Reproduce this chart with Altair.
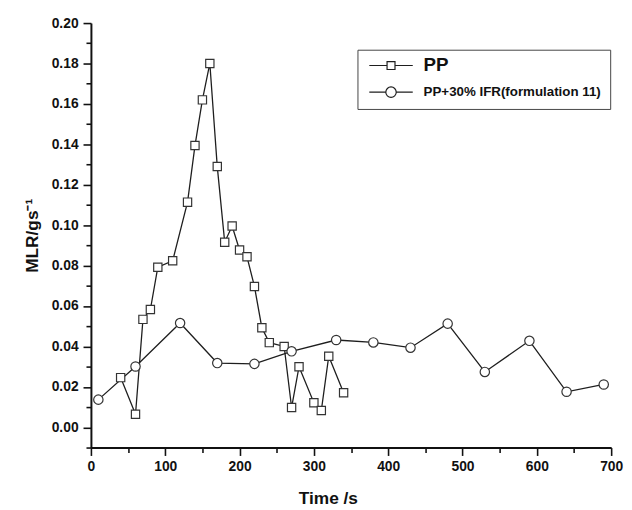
import altair as alt
import pandas as pd

# ---- data ----
series = ["PP", "PP+30% IFR(formulation 11)"]

pp_time = [40, 60, 70, 80, 90, 110, 130, 140, 150, 160, 170, 180, 190, 200, 210,
           220, 230, 240, 260, 270, 280, 300, 310, 320, 340]
pp_mlr = [0.0246, 0.0065, 0.0534, 0.0583, 0.0792, 0.0824, 0.1114, 0.1394, 0.1620,
          0.1800, 0.1290, 0.0916, 0.0996, 0.0877, 0.0844, 0.0697, 0.0493, 0.0419,
          0.0400, 0.0098, 0.0300, 0.0122, 0.0083, 0.0352, 0.0171]

ifr_time = [10, 60, 120, 170, 220, 270, 330, 380, 430, 480, 530, 590, 640, 690]
ifr_mlr = [0.0137, 0.0301, 0.0516, 0.0318, 0.0314, 0.0376, 0.0432, 0.0420, 0.0394,
           0.0513, 0.0274, 0.0428, 0.0176, 0.0212]

x_ticks = list(range(0, 701, 50))
y_ticks = [round(-0.01 + 0.01 * i, 2) for i in range(22)]

pp_df = pd.DataFrame({"t": pp_time, "v": pp_mlr, "s": series[0]})
ifr_df = pd.DataFrame({"t": ifr_time, "v": ifr_mlr, "s": series[1]})
df = pd.concat([pp_df, ifr_df], ignore_index=True)

FONT = "Liberation Sans"
INK = "#1e1e1e"

# legend glyphs: a line with a marker in the middle (unit = 6 px)
SQ = "M-3.67,0H-0.67M0.67,0H3.67M-0.67,-0.67H0.67V0.67H-0.67Z"
CI = ("M-3.67,0H-0.88M0.88,0H3.67M-0.88,0A0.88,0.88 0 1,0 0.88,0"
      "A0.88,0.88 0 1,0 -0.88,0Z")

x_enc = alt.X(
    "t:Q",
    scale=alt.Scale(domain=[0, 700], nice=False, zero=False),
    axis=alt.Axis(
        title="Time /s", values=x_ticks,
        labelExpr="datum.value % 100 === 0 ? datum.label : ''",
        tickSize={"condition": {"test": "datum.value % 100 === 0", "value": 8}, "value": 5},
        labelOverlap=False, labelFlush=False, grid=False,
        labelPadding=4, titleX=240, titleY=57, titleBaseline="alphabetic",
        titleAlign="center", titleAnchor="start",
    ),
)
y_enc = alt.Y(
    "v:Q",
    scale=alt.Scale(domain=[-0.01, 0.20], nice=False, zero=False),
    axis=alt.Axis(
        title="MLR/gs⁻¹", values=y_ticks,
        labelExpr="round(datum.value*100) % 2 === 0 ? format(datum.value, '.2f') : ''",
        tickSize={"condition": {"test": "round(datum.value*100) % 2 === 0", "value": 8}, "value": 5},
        labelOverlap=False, labelFlush=False, grid=False,
        labelPadding=5, titlePadding=10,
    ),
)

lines = alt.Chart(df).mark_line(strokeWidth=1.3).encode(
    x=x_enc, y=y_enc,
    color=alt.Color(
        "s:N",
        sort=series,
        scale=alt.Scale(domain=series, range=[INK, INK]),
        legend=alt.Legend(
            title=None, orient="none", legendX=270, legendY=27,
            strokeColor="#444", padding=9,
            symbolSize=144, symbolStrokeWidth=1.2, symbolOffset=18,
            symbolType=alt.ExprRef(f"datum.value === 'PP' ? '{SQ}' : '{CI}'"),
            symbolFillColor="white", symbolStrokeColor=INK,
            labelFont=FONT, labelFontWeight="bold",
            labelFontSize=alt.ExprRef("datum.value === 'PP' ? 19 : 13.5"),
            labelColor="#111", labelOffset=26, rowPadding=9,
            labelLimit=400,
        ),
    ),
)

pp_points = alt.Chart(pp_df).mark_point(
    shape="square", size=70, filled=True, fill="white", stroke="#333",
    strokeWidth=1.2, opacity=1,
).encode(x=x_enc, y=y_enc)

ifr_points = alt.Chart(ifr_df).mark_point(
    shape="circle", size=90, filled=True, fill="white", stroke="#333",
    strokeWidth=1.2, opacity=1,
).encode(x=x_enc, y=y_enc)

chart = alt.layer(lines, pp_points, ifr_points).properties(
    width=527, height=430,
    autosize=alt.AutoSizeParams(type="none"),
    padding={"left": 84, "top": 12, "right": 13, "bottom": 60},
).configure_view(stroke=None).configure_axis(
    domainColor="#111", domainWidth=2, tickColor="#111", tickWidth=1.6,
    labelFont=FONT, labelFontSize=14, labelFontWeight="bold", labelColor="#111",
    titleFont=FONT, titleFontSize=17.5, titleFontWeight="bold", titleColor="#111",
)

chart.save("out.html", embed_options={"renderer": "svg", "actions": False})
